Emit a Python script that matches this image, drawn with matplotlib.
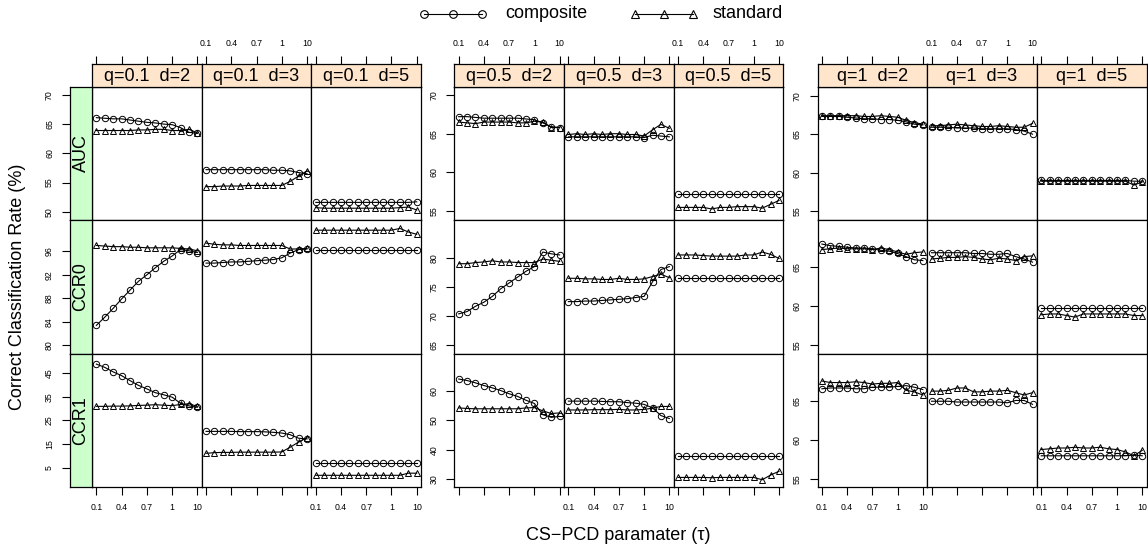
import matplotlib
matplotlib.use("Agg")
import matplotlib.pyplot as plt
from matplotlib.lines import Line2D

plt.rcParams['font.family'] = ['Liberation Sans', 'DejaVu Sans']

# tau index positions 1..13, ticks at 0.1, 0.4, 0.7, 1, 10
tick_pos = [1, 4, 7, 10, 13]
tick_labels = ['0.1', '0.4', '0.7', '1', '10']
q_labels = ['0.1', '0.5', '1']
d_labels = ['2', '3', '5']
metrics = ['AUC', 'CCR0', 'CCR1']

# ---- q = 0.1 (rows: d=2, d=3, d=5) ----
auc_comp_q01 = [
    [66.1, 66.0, 65.9, 65.9, 65.7, 65.5, 65.3, 65.2, 65.0, 64.9, 64.4, 63.6, 63.4],
    [57.2, 57.2, 57.2, 57.2, 57.2, 57.2, 57.2, 57.2, 57.1, 57.1, 57.0, 56.7, 56.5],
    [51.6, 51.6, 51.6, 51.6, 51.6, 51.6, 51.6, 51.6, 51.6, 51.6, 51.6, 51.6, 51.7],
]
auc_std_q01 = [
    [63.9, 63.9, 63.9, 63.9, 63.9, 64.0, 64.0, 64.1, 64.1, 63.9, 63.9, 64.1, 63.5],
    [54.3, 54.3, 54.4, 54.4, 54.4, 54.5, 54.5, 54.5, 54.5, 54.5, 55.2, 56.1, 57.0],
    [50.7, 50.6, 50.6, 50.6, 50.6, 50.6, 50.6, 50.6, 50.6, 50.6, 50.7, 50.8, 50.3],
]
ccr0_comp_q01 = [
    [83.4, 84.8, 86.3, 87.9, 89.4, 90.9, 92.0, 93.2, 94.3, 95.2, 96.3, 96.1, 95.8],
    [94.0, 94.0, 94.1, 94.2, 94.2, 94.3, 94.4, 94.5, 94.6, 94.9, 95.7, 96.3, 96.4],
    [96.3, 96.3, 96.3, 96.3, 96.3, 96.3, 96.3, 96.3, 96.3, 96.3, 96.3, 96.3, 96.3],
]
ccr0_std_q01 = [
    [97.0, 96.9, 96.8, 96.8, 96.7, 96.7, 96.6, 96.6, 96.6, 96.6, 96.5, 96.4, 96.1],
    [97.4, 97.2, 97.1, 97.1, 97.0, 97.0, 97.0, 97.0, 97.0, 97.0, 96.4, 96.4, 96.5],
    [99.6, 99.6, 99.6, 99.6, 99.6, 99.6, 99.6, 99.6, 99.6, 99.6, 99.9, 99.3, 98.9],
]
ccr1_comp_q01 = [
    [48.8, 47.4, 45.5, 43.9, 41.8, 39.8, 38.3, 36.7, 35.8, 34.8, 32.2, 31.1, 30.5],
    [20.3, 20.3, 20.3, 20.3, 20.2, 20.2, 20.2, 20.1, 19.9, 19.6, 18.9, 17.4, 17.1],
    [7.0, 7.0, 7.0, 7.0, 7.0, 7.0, 7.0, 7.0, 7.0, 7.0, 7.0, 7.0, 7.0],
]
ccr1_std_q01 = [
    [30.9, 30.9, 31.0, 31.0, 31.1, 31.3, 31.4, 31.6, 31.4, 31.2, 31.7, 32.0, 30.9],
    [11.0, 11.3, 11.4, 11.4, 11.5, 11.5, 11.5, 11.5, 11.5, 11.6, 13.6, 15.8, 17.6],
    [1.7, 1.7, 1.7, 1.7, 1.7, 1.7, 1.7, 1.7, 1.7, 1.7, 1.7, 2.6, 2.6],
]

# ---- q = 0.5 ----
auc_comp_q05 = [
    [67.2, 67.2, 67.1, 67.0, 67.0, 67.0, 67.0, 67.0, 66.9, 66.8, 66.4, 65.9, 65.8],
    [64.6, 64.6, 64.6, 64.6, 64.6, 64.6, 64.6, 64.6, 64.6, 64.5, 64.8, 64.7, 64.6],
    [57.2, 57.2, 57.2, 57.2, 57.2, 57.2, 57.2, 57.2, 57.2, 57.2, 57.2, 57.2, 57.2],
]
auc_std_q05 = [
    [66.5, 66.4, 66.3, 66.5, 66.5, 66.5, 66.5, 66.4, 66.4, 66.6, 66.5, 65.8, 65.8],
    [64.9, 65.0, 64.9, 65.0, 64.9, 65.0, 65.0, 64.9, 64.9, 64.7, 65.5, 66.2, 65.7],
    [55.5, 55.5, 55.5, 55.5, 55.3, 55.5, 55.5, 55.6, 55.6, 55.6, 55.4, 55.9, 56.4],
]
ccr0_comp_q05 = [
    [70.4, 70.8, 71.7, 72.4, 73.4, 74.7, 75.7, 76.7, 77.7, 78.5, 81.0, 80.7, 80.5],
    [72.5, 72.5, 72.6, 72.6, 72.7, 72.8, 72.9, 73.0, 73.2, 73.4, 75.9, 78.0, 78.5],
    [76.5, 76.5, 76.5, 76.5, 76.5, 76.5, 76.5, 76.5, 76.5, 76.5, 76.5, 76.5, 76.5],
]
ccr0_std_q05 = [
    [79.0, 79.0, 79.2, 79.3, 79.5, 79.3, 79.3, 79.2, 79.2, 79.2, 79.8, 79.6, 79.4],
    [76.5, 76.5, 76.4, 76.4, 76.3, 76.3, 76.5, 76.3, 76.3, 76.4, 76.8, 77.2, 76.6],
    [80.5, 80.5, 80.5, 80.4, 80.3, 80.3, 80.3, 80.3, 80.5, 80.5, 81.0, 80.6, 79.9],
]
ccr1_comp_q05 = [
    [64.0, 63.5, 62.7, 61.8, 61.0, 60.1, 59.0, 58.1, 56.8, 55.7, 51.9, 51.0, 51.3],
    [56.5, 56.5, 56.5, 56.5, 56.4, 56.3, 56.3, 56.0, 55.8, 55.4, 54.2, 51.6, 50.6],
    [37.9, 37.9, 37.9, 37.9, 37.9, 37.9, 37.9, 37.9, 37.9, 37.9, 37.9, 37.9, 37.9],
]
ccr1_std_q05 = [
    [54.2, 54.0, 53.9, 53.9, 53.9, 53.9, 53.9, 53.9, 54.2, 54.3, 53.2, 52.3, 52.5],
    [53.5, 53.5, 53.5, 53.6, 53.6, 53.6, 53.7, 53.5, 53.5, 53.7, 54.1, 54.7, 54.7],
    [30.6, 30.6, 30.6, 30.6, 30.5, 30.6, 30.6, 30.6, 30.6, 30.6, 29.8, 31.4, 32.7],
]

# ---- q = 1 ----
auc_comp_q1 = [
    [67.3, 67.3, 67.3, 67.2, 67.1, 67.0, 67.0, 66.9, 66.9, 66.8, 66.6, 66.3, 66.2],
    [65.9, 65.9, 65.9, 65.8, 65.8, 65.8, 65.7, 65.7, 65.7, 65.7, 65.6, 65.4, 65.0],
    [59.0, 59.0, 59.0, 59.0, 59.0, 59.0, 59.0, 59.0, 59.0, 59.0, 59.0, 58.9, 58.9],
]
auc_std_q1 = [
    [67.4, 67.4, 67.4, 67.4, 67.4, 67.3, 67.3, 67.4, 67.3, 67.2, 66.8, 66.5, 66.3],
    [66.1, 66.1, 66.2, 66.3, 66.2, 66.1, 66.0, 66.0, 66.1, 66.0, 65.9, 65.9, 66.4],
    [58.9, 58.9, 58.9, 58.9, 58.9, 58.9, 58.9, 58.9, 58.9, 58.9, 58.9, 58.4, 58.8],
]
ccr0_comp_q1 = [
    [67.9, 67.7, 67.6, 67.5, 67.4, 67.4, 67.3, 67.1, 67.0, 66.7, 66.3, 65.9, 65.8],
    [66.8, 66.8, 66.8, 66.8, 66.8, 66.7, 66.7, 66.6, 66.6, 66.7, 66.3, 66.0, 65.6],
    [59.8, 59.8, 59.8, 59.8, 59.8, 59.8, 59.8, 59.8, 59.8, 59.8, 59.8, 59.8, 59.8],
]
ccr0_std_q1 = [
    [67.2, 67.3, 67.4, 67.3, 67.3, 67.3, 67.2, 67.4, 67.2, 66.9, 66.6, 66.8, 66.9],
    [66.0, 66.1, 66.2, 66.2, 66.3, 66.2, 66.0, 65.9, 66.1, 66.0, 65.8, 66.3, 66.4],
    [58.9, 59.0, 59.0, 58.8, 58.6, 59.0, 59.0, 59.0, 59.0, 59.0, 59.0, 58.8, 58.8],
]
ccr1_comp_q1 = [
    [66.6, 66.7, 66.7, 66.7, 66.6, 66.6, 66.8, 66.8, 66.8, 66.9, 67.0, 66.8, 66.5],
    [65.0, 65.0, 65.0, 64.9, 64.9, 64.9, 64.9, 64.9, 64.9, 64.8, 65.1, 65.1, 64.6],
    [58.0, 58.0, 58.0, 58.0, 58.0, 58.0, 58.0, 58.0, 58.0, 58.0, 58.0, 58.1, 58.0],
]
ccr1_std_q1 = [
    [67.6, 67.4, 67.4, 67.4, 67.5, 67.4, 67.2, 67.3, 67.3, 67.4, 66.4, 66.2, 65.8],
    [66.3, 66.3, 66.4, 66.7, 66.7, 66.2, 66.2, 66.3, 66.3, 66.4, 66.1, 65.8, 66.1],
    [58.8, 58.9, 59.0, 59.0, 59.1, 59.0, 59.0, 59.1, 58.9, 58.8, 58.5, 58.0, 58.7],
]

comp = [
    [auc_comp_q01, ccr0_comp_q01, ccr1_comp_q01],
    [auc_comp_q05, ccr0_comp_q05, ccr1_comp_q05],
    [auc_comp_q1, ccr0_comp_q1, ccr1_comp_q1],
]
std = [
    [auc_std_q01, ccr0_std_q01, ccr1_std_q01],
    [auc_std_q05, ccr0_std_q05, ccr1_std_q05],
    [auc_std_q1, ccr0_std_q1, ccr1_std_q1],
]

# y limits and ticks per (q, metric)
ylims = [
    [(48.55, 71.4), (78.58, 101.3), (-3.34, 53.2)],
    [(53.85, 71.06), (63.57, 86.46), (27.28, 72.6)],
    [(53.84, 71.16), (53.94, 70.94), (53.97, 71.1)],
]
yticks = [
    [[50, 55, 60, 65, 70], [80, 84, 88, 92, 96], [5, 15, 25, 35, 45]],
    [[55, 60, 65, 70], [65, 70, 75, 80], [30, 40, 50, 60]],
    [[55, 60, 65, 70], [55, 60, 65], [55, 60, 65]],
]

W, H = 1148, 552
fig = plt.figure(figsize=(W / 100, H / 100), dpi=100)


def px_axes(x0, y0, w, h):
    return fig.add_axes([x0 / W, 1 - (y0 + h) / H, w / W, h / H])


group_left = [92.0, 454.3, 817.5]
pw, ph = 109.7, 133.5
row_top = [86.7, 220.2, 353.7]
strip_top, strip_h = 64.3, 22.4
xlim = (0.48, 13.52)
xs = list(range(1, 14))

strip_peach = '#FFE5CC'
strip_green = '#CCFFCC'
tick_fs = 6.3
tlen, tpad = 6.0, 5.5


def style_frame(ax):
    for s in ax.spines.values():
        s.set_linewidth(0.9)
        s.set_color('black')


for g in range(3):
    # which columns carry tick labels at top / bottom
    if g == 1:
        top_lab, bot_lab = {0, 2}, {1}
    else:
        top_lab, bot_lab = {1}, {0, 2}

    for r in range(3):
        for c in range(3):
            x0 = group_left[g] + c * pw
            ax = px_axes(x0, row_top[r], pw, ph)
            style_frame(ax)
            ax.plot(xs, comp[g][r][c], '-o', color='black', lw=0.8,
                    ms=4.6, mfc='none', mec='black', mew=0.7)
            ax.plot(xs, std[g][r][c], '-^', color='black', lw=0.8,
                    ms=5.0, mfc='none', mec='black', mew=0.7)
            ax.set_xlim(*xlim)
            ax.set_ylim(*ylims[g][r])
            ax.set_xticks(tick_pos)
            ax.set_yticks(yticks[g][r])
            ax.tick_params(axis='both', direction='out', length=tlen,
                           width=0.8, pad=tpad, labelsize=tick_fs)
            ax.tick_params(axis='x', top=False, labeltop=False)

            if r == 2:
                ax.set_xticklabels(tick_labels)
                ax.tick_params(axis='x', bottom=True, labelbottom=(c in bot_lab))
            else:
                ax.tick_params(axis='x', bottom=False, labelbottom=False)

            y_on_panel = (c == 0 and g > 0)
            ax.tick_params(axis='y', left=y_on_panel, labelleft=y_on_panel,
                           right=False, labelright=False, labelrotation=90)
            if y_on_panel:
                for lab in ax.get_yticklabels():
                    lab.set_va('center')

            # column strips above the top row
            if r == 0:
                sax = px_axes(x0, strip_top, pw, strip_h)
                style_frame(sax)
                sax.set_facecolor(strip_peach)
                sax.set_xlim(*xlim)
                sax.set_ylim(0, 1)
                sax.set_xticks(tick_pos)
                sax.set_xticklabels(tick_labels)
                sax.set_yticks([])
                sax.tick_params(axis='x', direction='out', length=tlen, width=0.8,
                                pad=tpad, labelsize=tick_fs, top=True,
                                labeltop=(c in top_lab), bottom=False,
                                labelbottom=False)
                sax.text(0.5, 0.45, 'q=%s  d=%s' % (q_labels[g], d_labels[c]),
                         transform=sax.transAxes, ha='center', va='center',
                         fontsize=13)

            # metric strips to the left of the first group
            if g == 0 and c == 0:
                lax = px_axes(70.0, row_top[r], 22.0, ph)
                style_frame(lax)
                lax.set_facecolor(strip_green)
                lax.set_xlim(0, 1)
                lax.set_ylim(*ylims[g][r])
                lax.set_xticks([])
                lax.set_yticks(yticks[g][r])
                lax.tick_params(axis='y', direction='out', length=tlen, width=0.8,
                                pad=tpad, labelsize=tick_fs, labelrotation=90)
                for lab in lax.get_yticklabels():
                    lab.set_va('center')
                lax.text(0.5, 0.5, metrics[r], transform=lax.transAxes,
                         ha='center', va='center', rotation=90, fontsize=13)

# axis titles
fig.text(18 / W, 1 - 287 / H, 'Correct Classification Rate (%)', rotation=90,
         ha='center', va='center', fontsize=13)
fig.text(618 / W, 1 - 535 / H, 'CS\u2212PCD paramater (\u03c4)',
         ha='center', va='center', fontsize=13)

# key at the top
ky = 1 - 14 / H
comp_x = [424, 453, 482]
std_x = [635, 664, 693]
fig.add_artist(Line2D([v / W for v in comp_x], [ky] * 3, color='black', lw=0.8,
                      marker='o', ms=5.5, mfc='none', mec='black', mew=0.8))
fig.add_artist(Line2D([v / W for v in std_x], [ky] * 3, color='black', lw=0.8,
                      marker='^', ms=6.0, mfc='none', mec='black', mew=0.8))
fig.text(505 / W, ky, 'composite', ha='left', va='center', fontsize=13)
fig.text(713 / W, ky, 'standard', ha='left', va='center', fontsize=13)

fig.savefig('out.png', dpi=100)
